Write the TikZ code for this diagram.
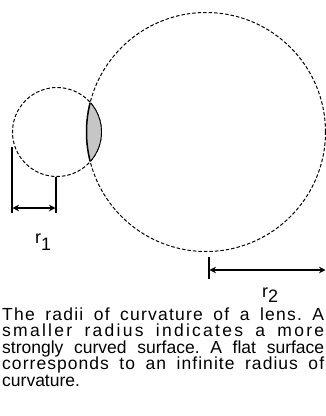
\documentclass[tikz,border=0pt]{standalone}
\usepackage{fontspec}
\setmainfont{Liberation Sans}
\newfontfamily\lsA[LetterSpace=7]{Liberation Sans}
\newfontfamily\lsB[LetterSpace=13]{Liberation Sans}
\newfontfamily\lsC[LetterSpace=0]{Liberation Sans}
\newfontfamily\lsD[LetterSpace=6]{Liberation Sans}
\usetikzlibrary{arrows.meta}
\tikzset{
  dashcircle/.style={draw, circle, inner sep=0pt, line width=1pt, dash pattern=on 3.5pt off 2pt},
  mark line/.style={line width=1.2pt},
  dim arrow/.style={line width=1.2pt, {Stealth[length=6.5pt,width=6.5pt]}-{Stealth[length=6.5pt,width=6.5pt]}},
  caption/.style={anchor=base west, inner sep=0pt, font=\fontsize{17.5}{16.5}\selectfont},
  rlabel/.style={inner sep=0pt, font=\fontsize{18}{18}\selectfont}
}
\begin{document}
\frenchspacing
\begin{tikzpicture}[x=1pt, y=-1pt]
\useasboundingbox (0,0) rectangle (326,416);
% circles
\node[dashcircle, minimum size=89pt] (c1) at (57,132) {};
\node[dashcircle, minimum size=239pt] (c2) at (206,132) {};
% lens
\begin{scope}
  \clip (57,132) circle (44.5pt);
  \fill[gray!45] (206,132) circle (119.5pt);
\end{scope}
\draw[line width=0.9pt] (57,132) ++(-41:44.5pt) arc (-41:41:44.5pt);
\draw[line width=1.5pt] (206,132) ++(165.8:119.5pt) arc (165.8:194.2:119.5pt);
% r1 dimension
\coordinate (a1) at (12,147);
\coordinate (a2) at (12,213);
\coordinate (b1) at (56,177);
\coordinate (b2) at (56,213);
\draw[mark line] (a1) -- (a2);
\draw[mark line] (b1) -- (b2);
\coordinate (p1) at (12.5,208);
\coordinate (p2) at (55.5,208);
\draw[dim arrow] (p1) -- (p2);
\node[rlabel, anchor=base west] (r1) at (35,243) {r\raisebox{-7pt}{1}};
% r2 dimension
\coordinate (d1) at (209,257);
\coordinate (d2) at (209,279);
\draw[mark line] (d1) -- (d2);
\coordinate (q1) at (209.5,270);
\coordinate (q2) at (325.5,270);
\draw[dim arrow] (q1) -- (q2);
\node[rlabel, anchor=base west] (r2) at (262,297) {r\raisebox{-5pt}{2}};
% caption
\node[caption] (t1) at (2,320) {\lsA\makebox[322pt][s]{The radii of curvature of a lens. A}};
\node[caption] (t2) at (2,336.5) {\lsB\makebox[322pt][s]{smaller radius indicates a more}};
\node[caption] (t3) at (2,353) {\lsC\makebox[322pt][s]{strongly curved surface. A flat surface}};
\node[caption] (t4) at (2,369.5) {\lsD\makebox[322pt][s]{corresponds to an infinite radius of}};
\node[caption] (t5) at (2,386) {\lsC curvature.};
\end{tikzpicture}
\end{document}
